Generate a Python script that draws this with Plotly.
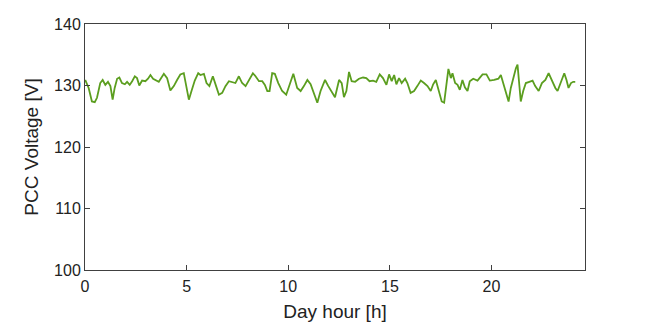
import plotly.graph_objects as go

hours = [0.01, 0.18, 0.34, 0.48, 0.59, 0.75, 0.87, 1.00, 1.13, 1.25, 1.36, 1.46, 1.58, 1.69, 1.82, 1.96,
         2.07, 2.20, 2.32, 2.45, 2.56, 2.67, 2.81, 2.97, 3.10, 3.22, 3.35, 3.46, 3.63, 3.88, 4.04, 4.20,
         4.37, 4.53, 4.69, 4.86, 5.02, 5.11, 5.24, 5.40, 5.57, 5.68, 5.85, 5.98, 6.12, 6.29, 6.45, 6.59,
         6.75, 6.91, 7.08, 7.24, 7.40, 7.57, 7.73, 7.90, 8.06, 8.26, 8.39, 8.56, 8.72, 8.85, 8.97, 9.08,
         9.21, 9.34, 9.51, 9.70, 9.90, 10.11, 10.25, 10.44, 10.61, 10.77, 10.94, 11.10, 11.27, 11.43,
         11.59, 11.81, 11.97, 12.13, 12.30, 12.50, 12.63, 12.74, 12.86, 12.99, 13.12, 13.29, 13.48, 13.68,
         13.84, 14.00, 14.17, 14.33, 14.50, 14.66, 14.83, 14.96, 15.09, 15.21, 15.32, 15.45, 15.58, 15.75,
         15.86, 16.02, 16.19, 16.35, 16.52, 16.68, 16.85, 17.01, 17.13, 17.26, 17.39, 17.55, 17.67, 17.78,
         17.88, 18.00, 18.08, 18.21, 18.33, 18.44, 18.57, 18.69, 18.82, 18.93, 19.10, 19.31, 19.56, 19.75,
         19.92, 20.13, 20.34, 20.46, 20.57, 20.74, 20.84, 20.95, 21.07, 21.20, 21.28, 21.36, 21.44, 21.56,
         21.69, 21.86, 22.02, 22.15, 22.32, 22.48, 22.65, 22.81, 22.97, 23.14, 23.25, 23.41, 23.58, 23.69,
         23.79, 23.91, 24.02, 24.12]

voltage = [130.9, 129.6, 127.4, 127.3, 128.0, 130.4, 130.9, 130.1, 130.6, 129.9, 127.7, 129.6, 131.1, 131.3, 130.4, 130.2,
           130.6, 130.1, 130.7, 131.5, 131.2, 130.0, 130.8, 130.7, 131.1, 131.7, 131.1, 130.9, 130.6, 131.9, 131.2, 129.2,
           129.9, 130.9, 131.8, 132.0, 129.6, 127.7, 129.1, 130.8, 132.0, 131.7, 131.9, 130.4, 129.9, 131.5, 129.9, 128.5,
           128.8, 129.9, 130.7, 130.6, 130.4, 131.5, 130.4, 129.9, 130.8, 132.0, 131.5, 130.7, 130.7, 130.1, 129.1, 129.1,
           132.0, 131.9, 130.4, 129.1, 128.5, 130.4, 131.9, 129.6, 129.1, 129.9, 130.9, 130.2, 128.8, 127.2,
           129.1, 130.9, 129.9, 129.1, 128.1, 130.9, 130.4, 128.1, 129.1, 132.2, 130.7, 130.6, 131.1, 131.3,
           131.2, 130.7, 130.8, 130.6, 131.8, 131.2, 130.1, 131.8, 130.7, 131.7, 130.2, 131.2, 130.4, 131.1,
           130.4, 128.8, 129.1, 129.9, 130.8, 130.4, 129.9, 129.1, 130.2, 130.9, 129.3, 127.4, 127.2, 130.1,
           132.7, 131.2, 132.0, 130.4, 130.1, 129.3, 130.9, 129.7, 129.1, 130.7, 131.1, 130.8, 131.8, 131.8,
           130.8, 130.9, 131.1, 131.7, 130.4, 128.5, 127.4, 129.6, 131.2, 132.8, 133.4, 130.1, 127.4, 129.1,
           130.4, 130.6, 130.8, 129.9, 129.1, 130.4, 130.9, 132.0, 130.7, 129.6, 129.1, 130.4, 132.0, 130.9,
           129.6, 130.4, 130.6, 130.6]

x_ticks = [0, 5, 10, 15, 20]
y_ticks = [100, 110, 120, 130, 140]

FONT = "Liberation Sans, Arial, sans-serif"

fig = go.Figure()
fig.add_trace(go.Scatter(x=hours, y=voltage, mode="lines",
                         line=dict(color="#5b9e1f", width=1.8), showlegend=False))

axis_common = dict(showgrid=False, zeroline=False, showline=True, linecolor="#404040", linewidth=1,
                   mirror="ticks", ticks="inside", ticklen=5, tickcolor="#404040",
                   automargin=False,
                   tickfont=dict(family=FONT, size=16, color="#222222"))

fig.update_layout(
    width=650, height=326,
    margin=dict(l=85, r=65, t=24, b=56),
    paper_bgcolor="white", plot_bgcolor="white",
    font=dict(family=FONT, size=16, color="#222222"),
    xaxis=dict(range=[0, 24.6], tickvals=x_ticks, ticktext=[str(t) for t in x_ticks],
               ticklabelstandoff=2,
               title=dict(text="Day hour [h]", standoff=10, font=dict(size=19)), **axis_common),
    yaxis=dict(range=[100, 140], tickvals=y_ticks, ticktext=[str(t) for t in y_ticks],
               title=dict(text="PCC Voltage [V]", standoff=10, font=dict(size=19)), **axis_common),
)

fig.write_html("out.html")
